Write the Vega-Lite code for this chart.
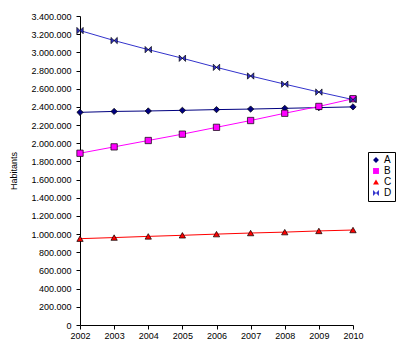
{
  "$schema": "https://vega.github.io/schema/vega-lite/v6.json",
  "autosize": "none",
  "padding": {"left": 80, "top": 16, "right": 51, "bottom": 31},
  "width": 273,
  "height": 309,
  "background": "white",
  "config": {
    "locale": {"number": {"decimal": ",", "thousands": ".", "grouping": [3], "currency": ["", ""]}},
    "view": {"stroke": null},
    "font": "Liberation Sans",
    "axis": {"labelFont": "Liberation Sans", "titleFont": "Liberation Sans", "labelColor": "black", "titleColor": "black", "domainColor": "black", "tickColor": "black", "grid": false, "labelFontSize": 9, "tickSize": 4}
  },
  "data": {"values": [
    {"series": "A", "year": 2002, "value": 2340000},
    {"series": "A", "year": 2003, "value": 2350000},
    {"series": "A", "year": 2004, "value": 2355000},
    {"series": "A", "year": 2005, "value": 2362000},
    {"series": "A", "year": 2006, "value": 2370000},
    {"series": "A", "year": 2007, "value": 2376000},
    {"series": "A", "year": 2008, "value": 2384000},
    {"series": "A", "year": 2009, "value": 2392000},
    {"series": "A", "year": 2010, "value": 2400000},
    {"series": "B", "year": 2002, "value": 1890000},
    {"series": "B", "year": 2003, "value": 1960000},
    {"series": "B", "year": 2004, "value": 2030000},
    {"series": "B", "year": 2005, "value": 2100000},
    {"series": "B", "year": 2006, "value": 2175000},
    {"series": "B", "year": 2007, "value": 2250000},
    {"series": "B", "year": 2008, "value": 2330000},
    {"series": "B", "year": 2009, "value": 2405000},
    {"series": "B", "year": 2010, "value": 2490000},
    {"series": "C", "year": 2002, "value": 950000},
    {"series": "C", "year": 2003, "value": 962000},
    {"series": "C", "year": 2004, "value": 975000},
    {"series": "C", "year": 2005, "value": 987000},
    {"series": "C", "year": 2006, "value": 1000000},
    {"series": "C", "year": 2007, "value": 1012000},
    {"series": "C", "year": 2008, "value": 1022000},
    {"series": "C", "year": 2009, "value": 1035000},
    {"series": "C", "year": 2010, "value": 1045000},
    {"series": "D", "year": 2002, "value": 3240000},
    {"series": "D", "year": 2003, "value": 3130000},
    {"series": "D", "year": 2004, "value": 3030000},
    {"series": "D", "year": 2005, "value": 2935000},
    {"series": "D", "year": 2006, "value": 2835000},
    {"series": "D", "year": 2007, "value": 2740000},
    {"series": "D", "year": 2008, "value": 2650000},
    {"series": "D", "year": 2009, "value": 2563000},
    {"series": "D", "year": 2010, "value": 2480000}
  ]},
  "encoding": {
    "x": {"field": "year", "type": "quantitative", "scale": {"domain": [2002, 2010], "nice": false, "zero": false},
      "axis": {"title": null, "values": [2002, 2003, 2004, 2005, 2006, 2007, 2008, 2009, 2010], "format": "d", "labelPadding": 2, "labelFlush": false}},
    "y": {"field": "value", "type": "quantitative", "scale": {"domain": [0, 3400000], "nice": false},
      "axis": {"title": "Habitants", "titleFontSize": 9, "titleFontWeight": "normal", "titlePadding": 12, "values": [0, 200000, 400000, 600000, 800000, 1000000, 1200000, 1400000, 1600000, 1800000, 2000000, 2200000, 2400000, 2600000, 2800000, 3000000, 3200000, 3400000], "format": ",d", "labelPadding": 5}}
  },
  "layer": [
    {
      "mark": {"type": "line", "strokeWidth": 1},
      "encoding": {
        "stroke": {"field": "series", "type": "nominal", "scale": {"domain": ["A", "B", "C", "D"], "range": ["#000080", "#FF00FF", "#FF0000", "#3333CC"]}, "legend": null}
      }
    },
    {
      "mark": {"type": "point", "filled": true, "stroke": "black", "strokeWidth": 0.7, "opacity": 1, "size": 40},
      "encoding": {
        "fill": {"field": "series", "type": "nominal", "scale": {"domain": ["A", "B", "C", "D"], "range": ["#000080", "#FF00FF", "#FF0000", "#3333CC"]},
          "legend": {"title": null, "orient": "none", "legendX": 288, "legendY": 136, "strokeColor": "black", "padding": 3, "labelFontSize": 10, "labelColor": "black", "symbolSize": 35, "rowPadding": 1, "labelOffset": 3, "symbolStrokeColor": "black", "symbolStrokeWidth": 0.7}},
        "shape": {"field": "series", "type": "nominal", "scale": {"domain": ["A", "B", "C", "D"], "range": ["diamond", "square", "triangle-up", "M-1,-1L-1,1L1,-1L1,1Z"]},
          "legend": {"title": null, "orient": "none", "legendX": 288, "legendY": 136, "strokeColor": "black", "padding": 3, "labelFontSize": 10, "labelColor": "black", "symbolSize": 35, "rowPadding": 1, "labelOffset": 3, "symbolStrokeColor": "black", "symbolStrokeWidth": 0.7}}
      }
    }
  ],
  "resolve": {"legend": {"stroke": "independent", "fill": "shared", "shape": "shared"}}
}
